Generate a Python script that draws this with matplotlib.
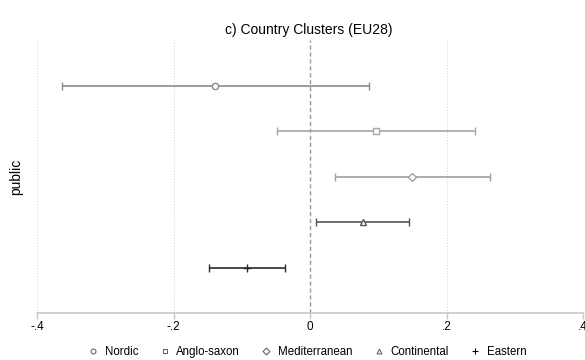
import numpy as np
import matplotlib
matplotlib.use('Agg')
import matplotlib.pyplot as plt
from matplotlib.lines import Line2D

plt.rcParams['font.family'] = ['Liberation Sans', 'DejaVu Sans']

clusters = ['Nordic', 'Anglo-saxon', 'Mediterranean', 'Continental', 'Eastern']
coef = [-0.139, 0.097, 0.150, 0.077, -0.093]
ci_lo = [-0.363, -0.048, 0.037, 0.009, -0.148]
ci_hi = [0.086, 0.242, 0.264, 0.145, -0.036]
markers = ['o', 's', 'D', '^', '+']
colors = ['#8c8c8c', '#a6a6a6', '#a0a0a0', '#555555', '#2b2b2b']
xticks = [-0.4, -0.2, 0, 0.2, 0.4]
xticklabels = ['-.4', '-.2', '0', '.2', '.4']

fig = plt.figure(figsize=(5.85, 3.6), dpi=100)
ax = fig.add_axes([37/585, 47/360, 546/585, 273/360])

for i, name in enumerate(clusters):
    y = i + 1
    c = coef[i]
    ax.errorbar([c], [y], xerr=[[c - ci_lo[i]], [ci_hi[i] - c]], fmt='none',
                ecolor=colors[i], elinewidth=1.2, capsize=3, capthick=1.0, zorder=3)
    ms = {'o': 4.5, 's': 4.5, 'D': 4, '^': 4.5, '+': 6}[markers[i]]
    ax.plot([c], [y], marker=markers[i], ms=ms,
            mfc='white' if markers[i] != '+' else colors[i], mec=colors[i], mew=1.0,
            linestyle='none', zorder=4)

for g in [-0.4, -0.2, 0.2, 0.4]:
    ax.axvline(g, color='#d6d6d6', lw=0.8, ls=(0, (1, 1.5)), zorder=1)
ax.axvline(0, color='#9a9a9a', lw=1.0, ls=(0, (3, 2)), zorder=2)

ax.set_xlim(-0.4, 0.4)
ax.set_ylim(6, 0)
ax.set_xticks(xticks)
ax.set_xticklabels(xticklabels, fontsize=8.5)
ax.set_yticks([])
for s in ['top', 'right', 'left']:
    ax.spines[s].set_visible(False)
ax.spines['bottom'].set_color('#c8c8c8')
ax.spines['bottom'].set_linewidth(1.2)
ax.tick_params(axis='x', length=4, width=1.0, color='#c8c8c8', pad=2)

ax.set_ylabel('public', fontsize=10, labelpad=10)
fig.text(309/585, 1 - 30/360, 'c) Country Clusters (EU28)', ha='center', va='center', fontsize=10)

handles = [Line2D([], [], marker=markers[i], ms=3.5 if markers[i] != '+' else 5, linestyle='none',
                  mfc='white' if markers[i] != '+' else 'black', mec='#666666' if markers[i] != '+' else 'black',
                  mew=0.8) for i in range(len(clusters))]
fig.legend(handles, clusters, loc='center', bbox_to_anchor=(307/585, 1 - 352/360), ncol=5,
           frameon=False, fontsize=8.3, handlelength=1.0, handletextpad=0.5, columnspacing=1.8)

fig.savefig('out.png', dpi=100)
